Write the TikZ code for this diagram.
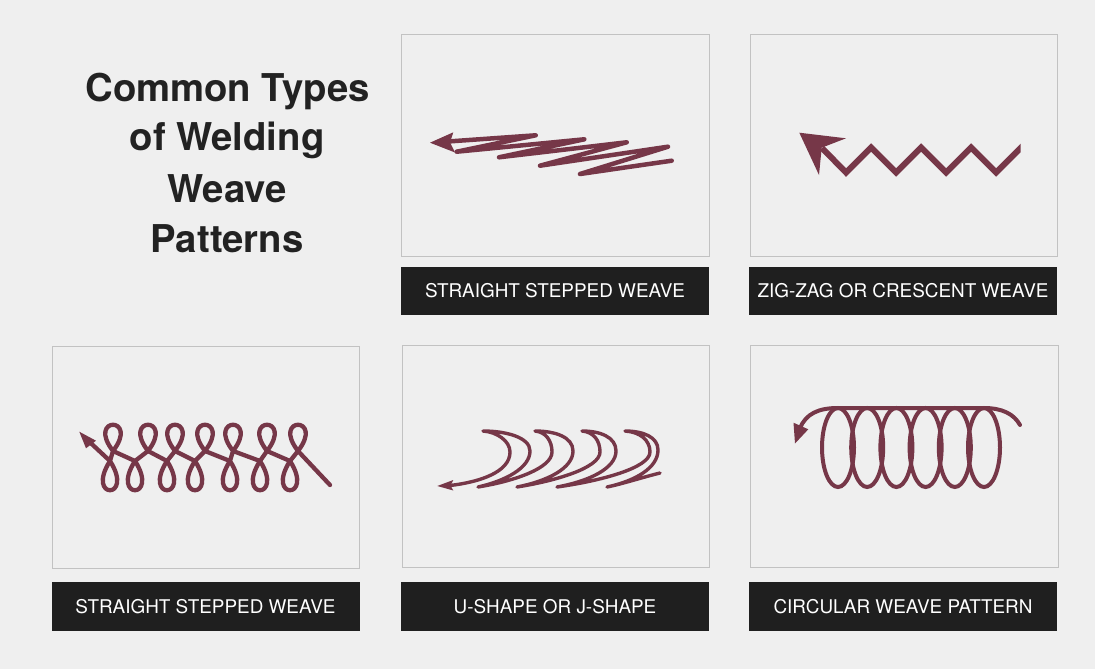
\documentclass[tikz,border=0pt]{standalone}
\usepackage{fontspec}
\setmainfont{TeX Gyre Heros}
\definecolor{bgc}{HTML}{EFEFEF}
\definecolor{weldc}{RGB}{118,55,72}
\definecolor{labc}{HTML}{1F1F1F}
\definecolor{framec}{HTML}{C2C2C2}
\definecolor{titlec}{HTML}{222222}
\begin{document}
\begin{tikzpicture}[x=1pt,y=-1pt,
  panel/.style={draw=framec, line width=1pt, fill=bgc, anchor=north west, minimum width=307.5pt, minimum height=222pt, inner sep=0pt},
  labelbox/.style={fill=labc, draw=none, text=white, font=\fontsize{18.9}{20}\selectfont, minimum width=308pt, minimum height=48.5pt, inner sep=0pt},
  titletext/.style={font=\fontsize{38.3}{40}\selectfont\bfseries, text=titlec, anchor=base, inner sep=0pt},
  weld/.style={draw=weldc, line cap=round, line join=round},
]
\fill[bgc] (0,0) rectangle (1095,669);
\useasboundingbox (0,0) rectangle (1095,669);

% title
\node[titletext] (t1) at (227.5,101.7) {Common Types};
\node[titletext] (t2) at (227,150.7) {of Welding};
\node[titletext] (t3) at (227,202.7) {Weave};
\node[titletext] (t4) at (227,252.3) {Patterns};

% panels
\node[panel] (p1) at (401,34) {};
\node[panel] (p2) at (749.5,34) {};
\node[panel] (p3) at (51.5,345.5) {};
\node[panel] (p4) at (401.5,345) {};
\node[panel] (p5) at (750,345) {};

% labels
\node[labelbox] (l1) at (555,291) {STRAIGHT STEPPED WEAVE};
\node[labelbox] (l2) at (903,291) {ZIG-ZAG OR CRESCENT WEAVE};
\node[labelbox] (l3) at (205.5,606.5) {STRAIGHT STEPPED WEAVE};
\node[labelbox] (l4) at (555,606.5) {U-SHAPE OR J-SHAPE};
\node[labelbox] (l5) at (903,606.5) {CIRCULAR WEAVE PATTERN};

% pattern 1: straight stepped
\draw[weld, line width=4.5pt] (671.7,160.7) -- (580,174) -- (668,146.7) -- (540,165.7) -- (626.7,142.3) -- (499,157.3) -- (584.3,139.3) -- (456.7,151.7) -- (535.7,135.3) -- (448,141.5);
\fill[weldc] (430,142.7) -- (453.3,132.3) -- (450,142.5) -- (455,152.5) -- cycle;

% pattern 2: zig-zag
\begin{scope}
\clip (790,120) rectangle (1020.5,190);
\draw[weldc, line width=6pt, line join=miter] (822,148) -- (846,172.5) -- (871,147.5) -- (896,172.5) -- (921,147.5) -- (946,172.5) -- (971,147.5) -- (996,172.5) -- (1030,138.5);
\end{scope}
\fill[weldc] (799.3,132.7) -- (846,138.3) -- (821.7,147.7) -- (819,175) -- cycle;

% pattern 3: loops
\draw[weld, line width=4.3pt] (88,440.5) -- (110,461);
\foreach \u/\l in {113/110,148/135,175/167,205/195,233/230,267/260,298/290}{
  \draw[weld, line width=4.3pt] (\l,461) .. controls (\l-25,500) and (\l+25,500) .. (\l,461) -- (\u,451) .. controls (\u+27,416) and (\u-27,416) .. (\u,451);
}
\foreach \u/\l in {113/135,148/167,175/195,205/230,233/260,267/290}{
  \draw[weld, line width=4.3pt] (\u,451) -- (\l,461);
}
\draw[weld, line width=4.3pt] (298,451) -- (330,485);
\fill[weldc] (79.3,431.7) -- (96,440.7) -- (86,448.3) -- cycle;

% pattern 4: U / J shape
\draw[weld, line width=3.4pt]
 (660,473) .. controls (640,478) and (622,484) .. (607,487)
 .. controls (635,481) and (658,468) .. (658,450) .. controls (658,437) and (643,431) .. (625,431)
 .. controls (640,432) and (650,440) .. (650,452) .. controls (650,468) and (600,481) .. (557,487)
 .. controls (590,481) and (616,468) .. (616,451) .. controls (616,437) and (600,431) .. (582,431)
 .. controls (594,432) and (600,441) .. (600,452) .. controls (600,468) and (555,481) .. (517,487)
 .. controls (548,481) and (573,468) .. (573,451) .. controls (573,437) and (555,431) .. (535,431)
 .. controls (546,432) and (552,441) .. (552,452) .. controls (552,468) and (515,481) .. (478,487)
 .. controls (505,481) and (530,468) .. (530,451) .. controls (530,437) and (505,431) .. (483,431)
 .. controls (497,432) and (510,441) .. (510,452) .. controls (510,472) and (480,482) .. (450,485.5);
\fill[weldc] (437.3,486) -- (453.3,480) -- (450.5,485.5) -- (453.3,490.5) -- cycle;

% pattern 5: circular
\foreach \i in {0,...,5}{
  \draw[weldc, line width=4pt] (838+29.2*\i,447.5) ellipse [x radius=16, y radius=39.5];
}
\draw[weld, line width=4pt] (800,428) .. controls (806,414) and (818,408) .. (838,408) -- (984,408) .. controls (1002,408) and (1014,414) .. (1020,425);
\fill[weldc] (795,443.5) -- (793.5,422.7) -- (808.3,429.3) -- cycle;
\end{tikzpicture}
\end{document}
